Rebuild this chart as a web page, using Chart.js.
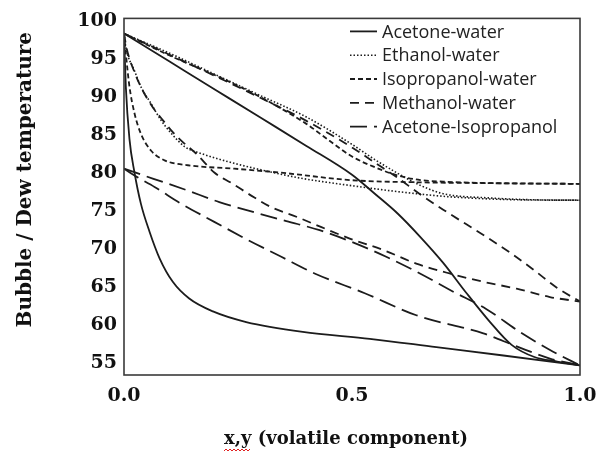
<!DOCTYPE html>
<html>
<head>
<meta charset="utf-8">
<script src="https://cdn.jsdelivr.net/npm/chart.js@4.4.1/dist/chart.umd.min.js"></script>
<style>
  html, body { margin: 0; padding: 0; background: #fff; }
  #wrap { width: 609px; height: 452px; position: relative; }
</style>
</head>
<body>
<div id="wrap"><canvas id="chart"></canvas></div>
<script>
// Bubble / dew temperature curves for five binary mixtures
const systems = ['Acetone-water', 'Ethanol-water', 'Isopropanol-water', 'Methanol-water', 'Acetone-Isopropanol'];

const acetoneWaterBubbleX = [0, 0.004, 0.012, 0.023, 0.037, 0.056, 0.078, 0.107, 0.143, 0.195, 0.268, 0.392, 0.539, 0.685, 0.832, 1];
const acetoneWaterBubbleT = [98.4, 91.4, 84.5, 80.1, 76.0, 72.3, 68.8, 65.7, 63.5, 61.8, 60.4, 59.1, 58.2, 57.1, 56.0, 54.7];
const acetoneWaterDewX = [0, 0.1, 0.2, 0.3, 0.4, 0.5, 0.55, 0.6, 0.65, 0.7, 0.75, 0.8, 0.85, 0.9, 0.95, 1];
const acetoneWaterDewT = [98.4, 94.7, 91.0, 87.3, 83.6, 79.8, 77.3, 74.7, 71.6, 68.2, 64.3, 60.6, 57.4, 55.8, 55.2, 54.7];

const ethanolWaterBubbleX = [0, 0.004, 0.023, 0.037, 0.059, 0.081, 0.103, 0.133, 0.169, 0.242, 0.319, 0.392, 0.495, 0.612, 0.714, 0.868, 1];
const ethanolWaterBubbleT = [98.4, 96.6, 93.5, 91.4, 89.2, 87.0, 85.3, 83.5, 82.6, 81.3, 80.2, 79.3, 78.4, 77.5, 76.9, 76.5, 76.45];
const ethanolWaterDewX = [0, 0.1, 0.2, 0.3, 0.4, 0.5, 0.55, 0.6, 0.65, 0.7, 0.8, 0.9, 1];
const ethanolWaterDewT = [98.4, 95.8, 93.0, 90.2, 87.4, 83.8, 81.8, 80.0, 78.4, 77.3, 76.75, 76.5, 76.45];

const isopropanolWaterBubbleX = [0, 0.004, 0.012, 0.023, 0.037, 0.059, 0.089, 0.14, 0.242, 0.356, 0.495, 0.649, 0.795, 1];
const isopropanolWaterBubbleT = [98.4, 95.8, 91.4, 87.9, 85.2, 83.0, 81.7, 81.05, 80.6, 80.0, 79.1, 78.8, 78.7, 78.6];
const isopropanolWaterDewX = [0, 0.1, 0.2, 0.3, 0.4, 0.45, 0.5, 0.55, 0.6, 0.65, 0.7, 0.8, 1];
const isopropanolWaterDewT = [98.4, 95.5, 92.9, 90.0, 86.5, 84.3, 82.2, 80.8, 79.7, 79.1, 78.9, 78.7, 78.6];

const methanolWaterBubbleX = [0, 0.006, 0.023, 0.041, 0.063, 0.085, 0.107, 0.129, 0.158, 0.198, 0.236, 0.286, 0.324, 0.381, 0.433, 0.495, 0.568, 0.641, 0.714, 0.788, 0.861, 0.934, 1];
const methanolWaterBubbleT = [98.4, 96.4, 93.3, 90.9, 88.7, 87.0, 85.4, 84.1, 82.6, 80.1, 78.7, 76.8, 75.5, 74.2, 72.9, 71.4, 69.9, 68.1, 66.8, 65.7, 64.8, 63.7, 63.1];
const methanolWaterDewX = [0, 0.1, 0.2, 0.3, 0.4, 0.5, 0.55, 0.6, 0.65, 0.7, 0.75, 0.8, 0.85, 0.9, 0.95, 1];
const methanolWaterDewT = [98.4, 95.6, 92.8, 89.9, 86.9, 83.4, 81.4, 79.4, 77.2, 75.2, 73.3, 71.4, 69.4, 67.2, 64.9, 63.1];

const acetoneIpaBubbleX = [0, 0.023, 0.067, 0.125, 0.198, 0.272, 0.345, 0.418, 0.528, 0.641, 0.788, 0.861, 0.934, 1];
const acetoneIpaBubbleT = [80.6, 79.7, 78.2, 76.0, 73.6, 71.2, 69.0, 66.8, 64.2, 61.3, 58.9, 57.2, 55.6, 54.7];
const acetoneIpaDewX = [0, 0.063, 0.136, 0.209, 0.283, 0.356, 0.429, 0.502, 0.575, 0.649, 0.722, 0.795, 0.868, 0.941, 1];
const acetoneIpaDewT = [80.6, 79.3, 77.8, 76.2, 74.9, 73.7, 72.5, 70.9, 69.0, 66.8, 64.4, 62.1, 59.1, 56.5, 54.7];

const xTicks = [0, 0.5, 1];
const yTicks = [55, 60, 65, 70, 75, 80, 85, 90, 95, 100];

// line look for each mixture
const ink = '#1c1c1c';
const lineStyles = {
    'Acetone-water': { dash: [], width: 1.8 },
    'Ethanol-water': { dash: [1.5, 2], width: 1.6 },
    'Isopropanol-water': { dash: [5, 3], width: 1.8 },
    'Methanol-water': { dash: [9, 6], width: 1.8 },
    'Acetone-Isopropanol': { dash: [17, 7], width: 1.8 }
};

function toPoints(xs, ts) {
    return xs.map((x, i) => ({ x: x, y: ts[i] }));
}

function curve(system, xs, ts) {
    const style = lineStyles[system];
    return {
        label: system,
        data: toPoints(xs, ts),
        borderColor: ink,
        borderWidth: style.width,
        borderDash: style.dash,
        pointRadius: 0,
        fill: false,
        cubicInterpolationMode: 'monotone'
    };
}

const datasets = [
    curve('Acetone-water', acetoneWaterBubbleX, acetoneWaterBubbleT),
    curve('Acetone-water', acetoneWaterDewX, acetoneWaterDewT),
    curve('Ethanol-water', ethanolWaterBubbleX, ethanolWaterBubbleT),
    curve('Ethanol-water', ethanolWaterDewX, ethanolWaterDewT),
    curve('Isopropanol-water', isopropanolWaterBubbleX, isopropanolWaterBubbleT),
    curve('Isopropanol-water', isopropanolWaterDewX, isopropanolWaterDewT),
    curve('Methanol-water', methanolWaterBubbleX, methanolWaterBubbleT),
    curve('Methanol-water', methanolWaterDewX, methanolWaterDewT),
    curve('Acetone-Isopropanol', acetoneIpaBubbleX, acetoneIpaBubbleT),
    curve('Acetone-Isopropanol', acetoneIpaDewX, acetoneIpaDewT)
];

const serifBold = "bold 19px 'DejaVu Serif', serif";

// plot frame, legend inside the plot and the two axis titles
const decorations = {
    id: 'decorations',
    afterDraw(chart) {
        const ctx = chart.ctx;
        const area = chart.chartArea;
        ctx.save();

        ctx.strokeStyle = '#3a3a3a';
        ctx.lineWidth = 1.6;
        ctx.setLineDash([]);
        ctx.strokeRect(area.left, area.top, area.right - area.left, area.bottom - area.top);

        // legend
        ctx.font = "18px 'Open Sans', sans-serif";
        ctx.textBaseline = 'middle';
        ctx.textAlign = 'left';
        systems.forEach((name, i) => {
            const style = lineStyles[name];
            const y = area.top + 13 + i * 23.8;
            const x0 = area.left + 226;
            ctx.strokeStyle = ink;
            ctx.lineWidth = style.width;
            ctx.setLineDash(style.dash);
            ctx.beginPath();
            ctx.moveTo(x0, y);
            ctx.lineTo(x0 + 27, y);
            ctx.stroke();
            ctx.fillStyle = '#222';
            ctx.fillText(name, x0 + 32, y + 1);
        });
        ctx.setLineDash([]);

        // y title
        ctx.fillStyle = '#111';
        ctx.font = "bold 20px 'DejaVu Serif', serif";
        ctx.textAlign = 'center';
        ctx.textBaseline = 'middle';
        ctx.save();
        ctx.translate(area.left - 98, (area.top + area.bottom) / 2 - 17);
        ctx.rotate(-Math.PI / 2);
        ctx.fillText('Bubble / Dew temperature', 0, 0);
        ctx.restore();

        // x title with the spell-check squiggle under "x,y"
        const title = 'x,y (volatile component)';
        ctx.font = "bold 18px 'DejaVu Serif', serif";
        const cx = (area.left + area.right) / 2 - 6;
        const cy = area.bottom + 64;
        ctx.fillText(title, cx, cy);
        const startX = cx - ctx.measureText(title).width / 2;
        const endX = startX + ctx.measureText('x,y').width;
        ctx.strokeStyle = '#e02020';
        ctx.lineWidth = 1;
        ctx.beginPath();
        for (let x = startX, k = 0; x <= endX; x += 2, k++) {
            const y = cy + 11 + (k % 2 ? -1 : 1);
            if (k === 0) ctx.moveTo(x, y); else ctx.lineTo(x, y);
        }
        ctx.stroke();

        ctx.restore();
    }
};

new Chart(document.getElementById('chart'), {
    type: 'line',
    data: { datasets: datasets },
    options: {
        responsive: true,
        maintainAspectRatio: false,
        animation: false,
        layout: { padding: { top: 17, right: 29, left: 0, bottom: 0 } },
        plugins: {
            legend: { display: false },
            tooltip: { enabled: false }
        },
        scales: {
            x: {
                type: 'linear',
                min: 0,
                max: 1,
                grid: { display: false, drawTicks: false },
                border: { display: false },
                afterBuildTicks: scale => { scale.ticks = xTicks.map(v => ({ value: v })); },
                afterFit: scale => { scale.height = 77; },
                ticks: {
                    padding: 10,
                    color: '#111',
                    font: { family: "'DejaVu Serif', serif", size: 19, weight: 'bold' },
                    callback: value => value.toFixed(1)
                }
            },
            y: {
                type: 'linear',
                min: 53.43,
                max: 100.39,
                grid: { display: false, drawTicks: false },
                border: { display: false },
                afterBuildTicks: scale => { scale.ticks = yTicks.map(v => ({ value: v })); },
                afterFit: scale => { scale.width = 124; },
                ticks: {
                    padding: 7,
                    color: '#111',
                    font: { family: "'DejaVu Serif', serif", size: 19, weight: 'bold' },
                    callback: value => String(value)
                }
            }
        }
    },
    plugins: [decorations]
});
</script>
</body>
</html>
